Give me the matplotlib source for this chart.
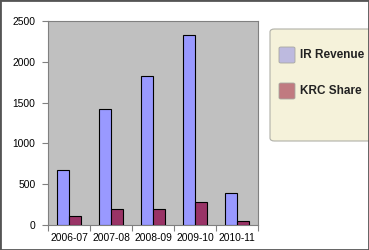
import numpy as np
import matplotlib
matplotlib.use("Agg")
import matplotlib.pyplot as plt
from matplotlib.patches import FancyBboxPatch, Rectangle

categories = ["2006-07", "2007-08", "2008-09", "2009-10", "2010-11"]
ir_revenue = [675, 1420, 1830, 2330, 395]
krc_share = [112, 200, 200, 285, 52]
series_names = ["IR Revenue", "KRC Share"]
yticks = [0, 500, 1000, 1500, 2000, 2500]

plt.rcParams['font.family'] = ['Liberation Sans', 'DejaVu Sans']

W, H = 369, 250
fig = plt.figure(figsize=(W / 100, H / 100), dpi=100)
fig.patch.set_facecolor("white")

ax = fig.add_axes([48 / W, 25 / H, 210 / W, 204 / H])
ax.set_facecolor("#C0C0C0")

x = np.arange(len(categories))
w = 0.29
ax.bar(x - w / 2, ir_revenue, w, color="#9999FF", edgecolor="black", linewidth=0.8, zorder=3)
ax.bar(x + w / 2, krc_share, w, color="#993366", edgecolor="black", linewidth=0.8, zorder=3)

ax.set_xlim(-0.5, len(categories) - 0.5)
ax.set_ylim(0, 2500)
ax.set_yticks(yticks)
ax.set_yticklabels([str(v) for v in yticks], fontsize=7.4)
ax.set_xticks(x)
ax.set_xticklabels(categories, fontsize=7.4)
ax.set_xticks(np.arange(len(categories) + 1) - 0.5, minor=True)
ax.tick_params(axis="x", which="major", length=0, pad=6)
ax.tick_params(axis="x", which="minor", length=4.5, color="#808080", width=0.8)
ax.tick_params(axis="y", length=4, color="#808080", width=0.8, pad=5)
for s in ax.spines.values():
    s.set_color("#808080")
    s.set_linewidth(0.8)

# legend box (extends past right edge)
tr = fig.transFigure
box = FancyBboxPatch((270 / W, (H - 141) / H), 120 / W, 112 / H,
                     boxstyle="round,pad=0,rounding_size=0.012",
                     transform=tr, facecolor="#F5F2DA", edgecolor="#B0B0A8",
                     linewidth=0.8, clip_on=False)
fig.patches.append(box)
swatch_colors = ["#BDBADF", "#C07A80"]
for i, (name, c) in enumerate(zip(series_names, swatch_colors)):
    y0 = 47 + i * 36
    r = FancyBboxPatch((279 / W, (H - y0 - 16) / H), 16 / W, 16 / H,
                       boxstyle="round,pad=0,rounding_size=0.005",
                       transform=tr, facecolor=c, edgecolor="#A8A8A0", linewidth=0.6)
    fig.patches.append(r)
    fig.text(300 / W, (H - y0 - 8) / H, name, fontsize=8.5, fontweight="bold",
             va="center", ha="left", color="#222222")

# outer frame
fig.patches.append(Rectangle((0, 0), 1, 1, transform=tr, fill=False,
                             edgecolor="#555555", linewidth=2))

fig.savefig("out.png", dpi=100)
